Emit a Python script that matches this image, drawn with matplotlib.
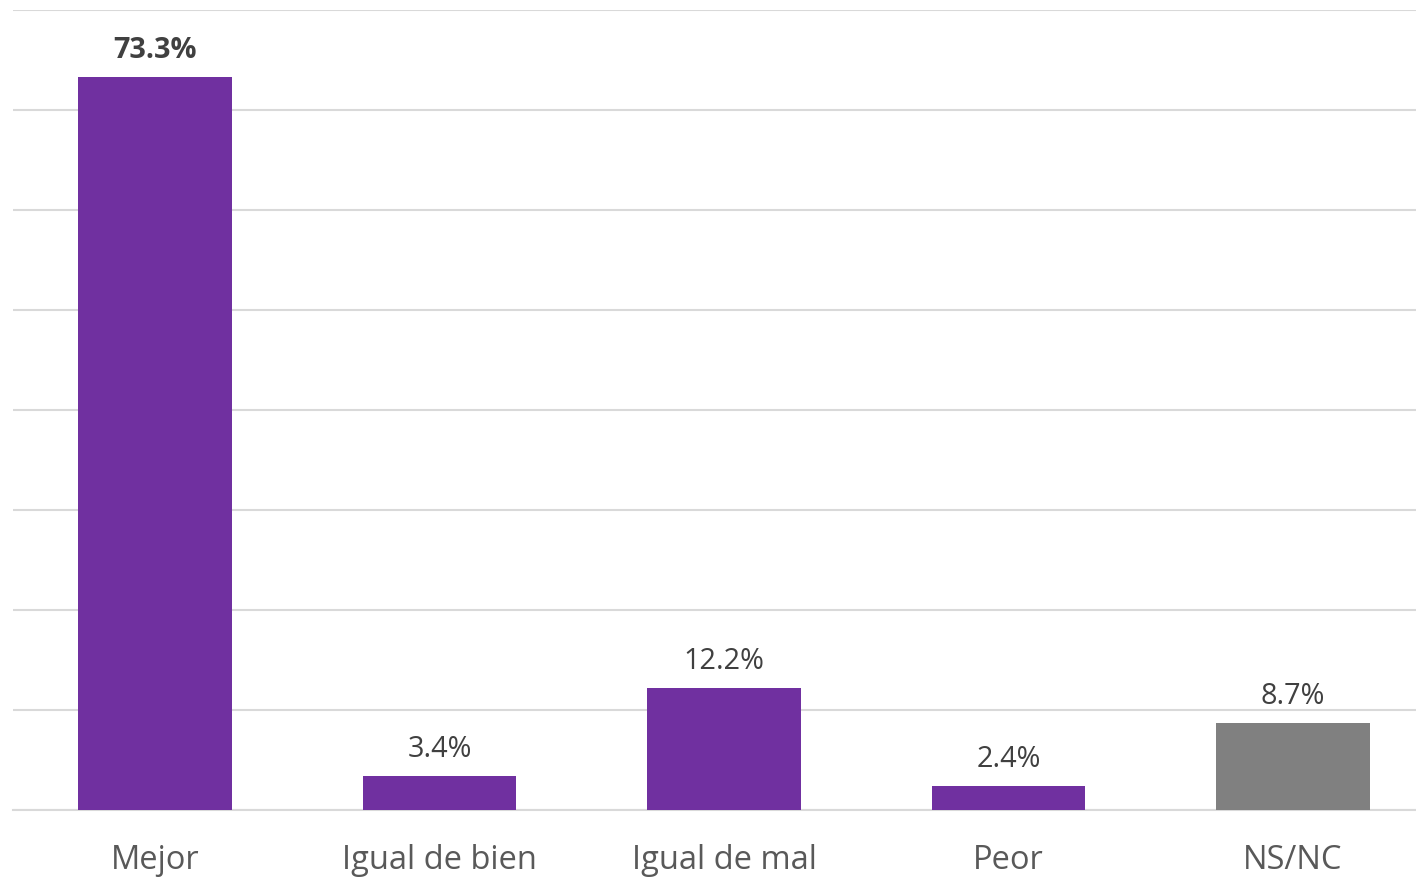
import matplotlib.pyplot as plt

categories = ['Mejor', 'Igual de bien', 'Igual de mal', 'Peor', 'NS/NC']
values = [73.3, 3.4, 12.2, 2.4, 8.7]
colors = ['#7030A0', '#7030A0', '#7030A0', '#7030A0', '#808080']
bold = [True, False, False, False, False]

plt.rcParams['font.family'] = ['Open Sans', 'DejaVu Sans']

fig = plt.figure(figsize=(14.16, 8.79), dpi=100)
ax = fig.add_axes([13 / 1416, 68 / 879, 1422 / 1416, 800 / 879])

x = range(len(categories))
bars = ax.bar(x, values, width=0.54, color=colors, zorder=3)

for b, v, bb in zip(bars, values, bold):
    ax.text(b.get_x() + b.get_width() / 2, v + 1.3, f'{v}%',
            ha='center', va='bottom', fontsize=20.8,
            fontweight='bold' if bb else 'normal', color='#404040')

ax.set_xlim(-0.5, 4.5)
ax.set_ylim(0, 80)
ax.set_yticks(range(0, 81, 10))
ax.yaxis.grid(True, color='#D9D9D9', linewidth=1.5, zorder=0)
ax.tick_params(axis='y', left=False, labelleft=False)
ax.set_xticks(list(x))
ax.set_xticklabels(categories, fontsize=23.5, color='#595959')
ax.tick_params(axis='x', length=0, pad=24)
for s in ['top', 'right', 'left']:
    ax.spines[s].set_visible(False)
ax.spines['bottom'].set_color('#D9D9D9')
ax.spines['bottom'].set_linewidth(1.5)

fig.savefig('out.png', dpi=100)
